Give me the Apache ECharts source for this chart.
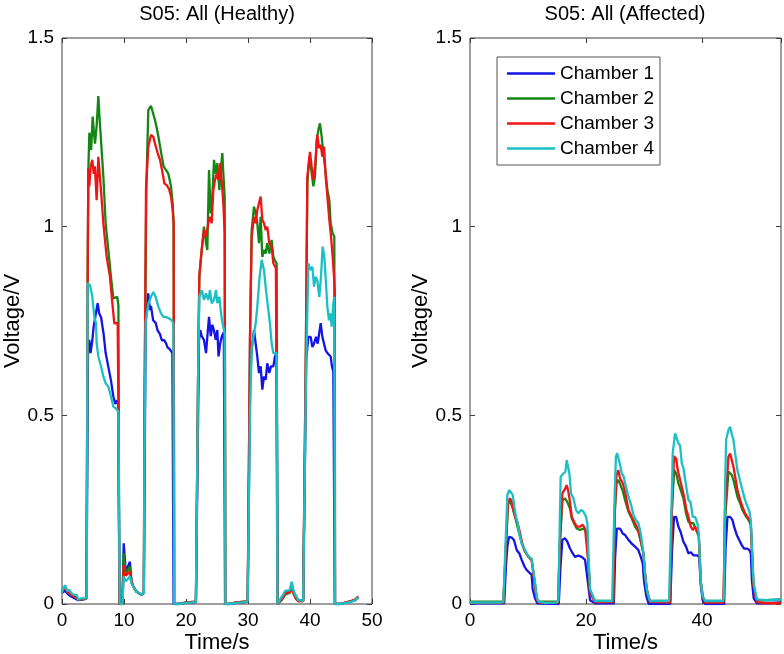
<!DOCTYPE html>
<html>
<head>
<meta charset="utf-8">
<script src="https://cdn.jsdelivr.net/npm/echarts@6/dist/echarts.min.js"></script>
<style>
  html, body { margin: 0; padding: 0; background: #fff; }
  #chart { width: 784px; height: 654px; }
</style>
</head>
<body>
<div id="chart"></div>
<script>
// series names and colours
var chamberNames = ["Chamber 1", "Chamber 2", "Chamber 3", "Chamber 4"];
var chamberColors = ["#1414e6", "#138613", "#f01414", "#1cbfc4"];

// S05 healthy side: [time s, voltage V]
var healthyCh1 = [[0,0.03],[0.5,0.035],[1,0.025],[1.5,0.02],[2,0.015],[2.6,0.01],[3.5,0.012],[3.95,0.015],
  [4.2,0.68],[4.4,0.70],[4.6,0.665],[4.9,0.70],[5.1,0.735],[5.4,0.74],[5.75,0.797],[6.0,0.77],[6.3,0.76],[6.7,0.717],[7.04,0.665],[7.47,0.629],[7.9,0.592],[8.28,0.55],[8.6,0.53],[8.9,0.54],[9.05,0.53],[9.3,0],
  [9.75,0],[9.95,0.161],[10.3,0.085],[10.55,0.08],[10.95,0.112],[11.2,0.06],[11.5,0.046],[12.0,0.033],[12.85,0.024],[13.2,0.03],
  [13.5,0.75],[13.9,0.823],[14.2,0.779],[14.35,0.79],[14.7,0.752],[15.1,0.745],[15.4,0.726],[15.8,0.715],[16.1,0.699],[16.5,0.699],[16.8,0.69],[17.0,0.681],[17.4,0.675],[17.8,0.665],[17.9,0.66],[18.0,0],
  [18.8,0],[20.0,0.003],[21.6,0.005],[21.8,0.01],
  [22.1,0.70],[22.3,0.726],[22.53,0.71],[22.9,0.70],[23.23,0.665],[23.5,0.72],[23.71,0.761],[24.0,0.71],[24.25,0.74],[24.5,0.726],[24.8,0.70],[25.05,0.726],[25.25,0.656],[25.5,0.69],[25.8,0.71],[26.1,0.72],[26.3,0],
  [27,0],[28,0.003],[29.5,0.005],[29.95,0.008],
  [30.35,0.6],[30.59,0.674],[30.97,0.726],[31.24,0.69],[31.5,0.656],[31.77,0.612],[32.04,0.63],[32.31,0.568],[32.58,0.603],[32.85,0.594],[33.11,0.638],[33.44,0.612],[33.71,0.63],[34.09,0.63],[34.35,0.656],[34.62,0.665],[34.8,0],
  [35.43,0.018],[36.0,0.03],[36.77,0.035],[37.04,0.055],[37.3,0.035],[37.7,0.02],[38.1,0.011],[38.9,0.008],
  [39.4,0.65],[39.73,0.708],[40.11,0.708],[40.38,0.681],[40.65,0.69],[40.97,0.708],[41.24,0.69],[41.72,0.744],[41.99,0.708],[42.26,0.69],[42.53,0.672],[42.8,0.665],[43.06,0.665],[43.33,0.656],[43.55,0.629],[43.76,0.616],[44.0,0],
  [44.8,0],[45.5,0.002],[46.5,0.006],[47.3,0.01],[47.8,0.018]];

var healthyCh2 = [[0,0.035],[0.5,0.045],[1,0.03],[1.5,0.025],[2,0.02],[2.6,0.012],[3.5,0.013],[3.95,0.015],
  [4.15,0.9],[4.25,1.15],[4.41,1.249],[4.7,1.203],[4.95,1.292],[5.15,1.249],[5.32,1.22],[5.6,1.27],[5.86,1.346],[6.05,1.29],[6.29,1.23],[6.67,1.133],[7.04,1.009],[7.47,0.939],[7.9,0.867],[8.28,0.81],[8.6,0.81],[8.92,0.814],[9.1,0.79],[9.25,0],
  [9.75,0],[9.95,0.134],[10.3,0.08],[10.55,0.075],[10.95,0.1],[11.2,0.06],[11.5,0.046],[12.0,0.033],[12.85,0.024],[13.2,0.03],
  [13.3,0.5],[13.6,1.1],[13.92,1.309],[14.35,1.32],[14.7,1.3],[14.99,1.283],[15.3,1.26],[15.54,1.239],[16.0,1.195],[16.4,1.159],[16.8,1.15],[17.15,1.14],[17.58,1.107],[17.85,1.062],[18.0,1.009],[18.1,0],
  [18.8,0],[20,0.004],[21.6,0.006],[21.8,0.01],
  [21.95,0.6],[22.15,0.868],[22.53,0.938],[22.9,1.0],[23.23,0.956],[23.44,0.938],[23.71,1.15],[23.98,1.035],[24.25,1.08],[24.52,1.177],[24.78,1.141],[25.05,1.168],[25.38,1.097],[25.59,1.15],[25.86,1.195],[26.02,1.141],[26.24,1.08],[26.35,0],
  [27,0],[28,0.004],[29.5,0.006],[29.95,0.008],
  [30.32,0.7],[30.59,0.991],[30.97,1.053],[31.24,1.035],[31.5,1.009],[31.77,0.956],[32.04,1.026],[32.31,0.92],[32.58,0.938],[32.85,0.929],[33.11,0.956],[33.44,0.929],[33.81,0.965],[34.09,0.92],[34.35,0.91],[34.62,0.903],[34.75,0],
  [35.43,0.01],[36.0,0.025],[36.77,0.03],[37.04,0.045],[37.3,0.03],[37.7,0.015],[38.1,0.008],[38.9,0.008],
  [39.35,0.7],[39.57,1.115],[39.89,1.185],[40.27,1.141],[40.54,1.107],[40.81,1.133],[41.08,1.23],[41.34,1.256],[41.61,1.274],[41.88,1.239],[42.15,1.195],[42.42,1.159],[42.8,1.097],[43.12,1.071],[43.33,1.009],[43.66,0.982],[43.92,0.974],[44.03,0],
  [44.8,0],[45.5,0.003],[46.5,0.007],[47.3,0.012],[47.8,0.02]];

var healthyCh3 = [[0,0.035],[0.5,0.042],[1,0.03],[1.5,0.025],[2,0.02],[2.6,0.012],[3.5,0.013],[3.95,0.015],
  [4.15,0.9],[4.25,1.155],[4.41,1.107],[4.62,1.16],[4.89,1.177],[5.11,1.14],[5.3,1.16],[5.59,1.07],[5.86,1.185],[6.29,1.097],[6.67,1.009],[7.2,0.92],[7.74,0.867],[8.12,0.797],[8.44,0.744],[8.98,0.744],[9.1,0.52],[9.25,0],
  [9.75,0],[9.95,0.103],[10.3,0.075],[10.55,0.07],[10.95,0.086],[11.2,0.06],[11.5,0.046],[12.0,0.033],[12.85,0.024],[13.2,0.03],
  [13.3,0.5],[13.55,1.1],[13.92,1.212],[14.35,1.243],[14.73,1.238],[14.99,1.221],[15.43,1.195],[15.81,1.177],[16.18,1.146],[16.51,1.115],[16.88,1.11],[17.26,1.1],[17.58,1.08],[17.85,1.044],[18.01,1.009],[18.1,0],
  [18.8,0],[20,0.004],[21.6,0.006],[21.8,0.01],
  [21.95,0.6],[22.15,0.868],[22.53,0.938],[22.9,0.991],[23.23,0.974],[23.6,1.009],[23.87,1.026],[24.14,1.009],[24.41,1.097],[24.68,1.124],[24.95,1.141],[25.22,1.124],[25.48,1.168],[25.75,1.124],[26.02,1.062],[26.24,0.982],[26.35,0],
  [27,0],[28,0.004],[29.5,0.006],[29.95,0.008],
  [30.32,0.7],[30.59,0.974],[30.97,1.026],[31.24,1.009],[31.5,1.044],[31.77,1.062],[32.04,1.08],[32.31,1.018],[32.58,1.009],[32.85,0.991],[33.11,1.0],[33.44,0.956],[33.81,0.947],[34.09,0.903],[34.5,0.89],[34.75,0],
  [35.43,0.012],[36.0,0.028],[36.77,0.032],[37.04,0.045],[37.3,0.03],[37.7,0.015],[38.1,0.008],[38.9,0.008],
  [39.35,0.7],[39.57,1.133],[40.0,1.198],[40.27,1.159],[40.54,1.124],[40.81,1.159],[41.18,1.243],[41.45,1.208],[41.72,1.217],[41.99,1.186],[42.26,1.212],[42.53,1.133],[42.8,1.08],[43.12,1.018],[43.39,0.974],[43.66,0.92],[43.87,0.868],[44.0,0.83],[44.05,0],
  [44.8,0],[45.5,0.003],[46.5,0.007],[47.3,0.012],[47.8,0.02]];

var healthyCh4 = [[0,0.03],[0.11,0.037],[0.48,0.05],[0.86,0.035],[1.2,0.037],[1.56,0.028],[2.0,0.024],[2.37,0.024],[2.63,0.011],[3.0,0.015],[3.55,0.015],[3.98,0.016],
  [4.14,0.85],[4.52,0.845],[4.89,0.814],[5.22,0.761],[5.48,0.744],[5.59,0.691],[5.86,0.656],[6.29,0.63],[6.67,0.603],[7.04,0.585],[7.47,0.576],[7.9,0.55],[8.28,0.523],[8.66,0.519],[8.92,0.515],[9.1,0.51],[9.3,0],
  [9.75,0],[9.95,0.073],[10.3,0.06],[10.55,0.065],[10.95,0.073],[11.2,0.055],[11.5,0.046],[12.0,0.033],[12.85,0.024],[13.2,0.03],
  [13.3,0.4],[13.5,0.744],[13.92,0.795],[14.35,0.814],[14.73,0.827],[15.1,0.814],[15.54,0.788],[15.97,0.77],[16.34,0.761],[16.72,0.761],[17.15,0.758],[17.69,0.752],[17.96,0.744],[18.1,0],
  [18.8,0],[20,0.003],[21.6,0.005],[21.8,0.01],
  [21.95,0.6],[22.15,0.814],[22.53,0.832],[22.9,0.806],[23.23,0.823],[23.6,0.806],[23.87,0.832],[24.14,0.797],[24.52,0.806],[24.85,0.832],[25.05,0.797],[25.38,0.814],[25.59,0.779],[25.81,0.752],[26.02,0.735],[26.24,0.717],[26.35,0],
  [27,0],[28,0.003],[29.5,0.005],[29.95,0.008],
  [30.32,0.5],[30.59,0.674],[30.97,0.718],[31.24,0.744],[31.5,0.788],[31.83,0.859],[32.2,0.912],[32.58,0.885],[32.9,0.832],[33.28,0.779],[33.54,0.744],[33.81,0.691],[34.09,0.665],[34.35,0.665],[34.62,0.665],[34.75,0],
  [35.43,0.018],[36.0,0.035],[36.77,0.037],[37.04,0.059],[37.3,0.037],[37.7,0.022],[38.1,0.011],[38.9,0.008],
  [39.35,0.6],[39.73,0.903],[40.11,0.885],[40.38,0.894],[40.65,0.841],[40.91,0.867],[41.18,0.858],[41.5,0.814],[41.77,0.867],[42.04,0.947],[42.31,0.92],[42.58,0.85],[42.8,0.788],[43.06,0.752],[43.33,0.77],[43.49,0.735],[43.76,0.797],[43.92,0.814],[44.05,0],
  [44.8,0],[45.5,0.002],[46.5,0.005],[47.3,0.01],[47.8,0.018]];

// S05 affected side: [time s, voltage V]
var affectedCh1 = [[0,0.002],[5.9,0.002],[6.2,0.1],[6.44,0.152],[6.72,0.178],[7.18,0.176],[7.59,0.169],[8.05,0.143],[8.51,0.134],[8.91,0.117],[9.37,0.1],[9.77,0.09],[10.23,0.083],[10.63,0.077],[10.8,0.04],[11.2,0.015],[11.6,0.002],
  [15.3,0],[15.6,0.1],[15.92,0.17],[16.38,0.174],[16.78,0.165],[17.24,0.147],[17.7,0.134],[18.1,0.125],[18.68,0.128],[19.25,0.125],[19.83,0.117],[20.11,0.115],[20.3,0.06],[20.69,0.01],[21.55,0.002],[24.8,0.002],
  [25.0,0.12],[25.3,0.2],[25.46,0.205],[25.86,0.2],[26.32,0.187],[26.72,0.183],[27.3,0.17],[27.87,0.16],[28.45,0.152],[29.02,0.143],[29.43,0.125],[29.77,0.108],[30.0,0.06],[30.4,0.02],[30.8,0],[34.5,0],
  [34.85,0.15],[35.17,0.231],[35.52,0.231],[35.92,0.205],[36.32,0.19],[36.78,0.165],[37.24,0.152],[37.64,0.134],[38.05,0.137],[38.51,0.129],[39.08,0.129],[39.5,0.125],[39.77,0.05],[40.1,0.01],[40.52,0],[43.8,0],
  [44.05,0.15],[44.37,0.231],[44.83,0.231],[45.23,0.223],[45.52,0.205],[45.98,0.183],[46.38,0.17],[46.84,0.156],[47.24,0.147],[47.7,0.147],[48.16,0.143],[48.39,0.134],[48.6,0.06],[48.9,0.015],[49.43,0.002],[51,0.002],[53.6,0.004]];

var affectedCh2 = [[0,0.006],[5.75,0.006],[6.1,0.12],[6.5,0.25],[6.61,0.266],[6.9,0.275],[7.36,0.254],[7.76,0.231],[8.33,0.196],[8.91,0.161],[9.48,0.139],[10.06,0.125],[10.63,0.117],[10.92,0.113],[11.2,0.05],[11.49,0.015],[11.78,0.006],
  [15.2,0.006],[15.45,0.15],[15.92,0.275],[16.38,0.28],[16.78,0.27],[17.24,0.253],[17.53,0.227],[17.93,0.214],[18.39,0.2],[18.97,0.196],[19.54,0.2],[20.11,0.192],[20.4,0.11],[20.69,0.03],[21.55,0.008],[24.7,0.008],
  [24.95,0.24],[25.25,0.32],[25.57,0.329],[25.86,0.324],[26.32,0.3],[26.72,0.276],[27.3,0.245],[27.87,0.227],[28.45,0.205],[29.02,0.192],[29.43,0.165],[29.89,0.134],[30.17,0.08],[30.46,0.04],[30.75,0.02],[31.03,0.008],[34.5,0.008],
  [34.8,0.25],[35.17,0.355],[35.52,0.346],[35.92,0.32],[36.32,0.302],[36.78,0.28],[37.24,0.24],[37.64,0.218],[38.05,0.214],[38.51,0.214],[38.97,0.196],[39.43,0.18],[39.77,0.06],[40.1,0.02],[40.52,0.008],[43.7,0.008],
  [43.95,0.22],[44.54,0.351],[44.83,0.355],[45.11,0.342],[45.4,0.329],[45.69,0.311],[46.09,0.284],[46.55,0.267],[46.95,0.249],[47.41,0.236],[47.82,0.227],[48.16,0.218],[48.39,0.209],[48.6,0.14],[48.85,0.05],[49.43,0.01],[51,0.01],[53.6,0.012]];

var affectedCh3 = [[0,0.003],[5.75,0.003],[6.1,0.12],[6.5,0.26],[6.61,0.272],[6.9,0.28],[7.18,0.272],[7.47,0.249],[7.87,0.228],[8.16,0.218],[8.6,0.19],[9.0,0.161],[9.5,0.139],[10.0,0.128],[10.63,0.115],[10.92,0.11],[11.2,0.05],[11.49,0.015],[11.78,0.004],
  [15.2,0.003],[15.45,0.15],[15.92,0.293],[16.38,0.305],[16.67,0.315],[16.95,0.298],[17.24,0.27],[17.53,0.231],[17.93,0.218],[18.39,0.205],[18.97,0.205],[19.43,0.21],[19.83,0.2],[20.11,0.196],[20.4,0.11],[20.69,0.03],[21.55,0.005],[24.7,0.005],
  [24.95,0.25],[25.25,0.34],[25.55,0.355],[25.86,0.333],[26.32,0.32],[26.72,0.298],[27.3,0.25],[27.87,0.231],[28.45,0.214],[29.02,0.196],[29.43,0.17],[29.89,0.134],[30.17,0.08],[30.46,0.04],[30.75,0.02],[31.03,0.006],[34.5,0.004],
  [34.8,0.25],[35.17,0.392],[35.52,0.385],[35.8,0.355],[36.09,0.355],[36.49,0.311],[36.9,0.285],[37.24,0.253],[37.64,0.231],[38.05,0.205],[38.39,0.196],[38.79,0.205],[39.19,0.192],[39.43,0.183],[39.77,0.06],[40.1,0.02],[40.52,0.004],[43.7,0.004],
  [43.95,0.25],[44.54,0.39],[44.83,0.399],[45.11,0.382],[45.4,0.364],[45.69,0.338],[46.09,0.302],[46.55,0.276],[46.95,0.258],[47.41,0.24],[47.82,0.231],[48.16,0.223],[48.39,0.214],[48.6,0.14],[48.85,0.05],[49.43,0.005],[51,0.002],[53.6,0.002]];

var affectedCh4 = [[0,0.004],[5.0,0.004],[5.75,0.005],[6.1,0.15],[6.44,0.289],[6.78,0.302],[7.07,0.3],[7.36,0.289],[7.64,0.258],[7.93,0.231],[8.22,0.214],[8.51,0.187],[8.91,0.161],[9.48,0.143],[9.77,0.134],[10.17,0.125],[10.63,0.12],[10.92,0.117],[11.2,0.06],[11.49,0.02],[11.78,0.006],[13,0.003],
  [15.0,0.004],[15.23,0.01],[15.45,0.2],[15.63,0.337],[16.09,0.346],[16.44,0.35],[16.67,0.381],[16.9,0.386],[17.13,0.346],[17.41,0.293],[17.82,0.28],[18.28,0.249],[18.68,0.24],[19.14,0.249],[19.54,0.245],[20.0,0.231],[20.23,0.214],[20.45,0.12],[20.69,0.04],[21.55,0.008],[24.5,0.008],
  [24.71,0.01],[24.95,0.3],[25.15,0.39],[25.35,0.4],[25.6,0.385],[25.86,0.37],[26.15,0.346],[26.44,0.34],[26.87,0.311],[27.3,0.285],[27.73,0.265],[28.16,0.236],[28.6,0.223],[29.02,0.214],[29.43,0.187],[29.89,0.134],[30.17,0.08],[30.46,0.04],[30.75,0.02],[31.03,0.008],[34.3,0.008],
  [34.6,0.01],[34.8,0.3],[34.94,0.399],[35.34,0.452],[35.63,0.457],[35.92,0.426],[36.21,0.42],[36.5,0.373],[36.78,0.36],[37.18,0.32],[37.64,0.276],[38.0,0.27],[38.39,0.231],[38.8,0.231],[39.19,0.214],[39.43,0.187],[39.77,0.06],[40.1,0.02],[40.52,0.008],[43.6,0.008],
  [43.79,0.02],[43.95,0.3],[44.14,0.435],[44.54,0.461],[44.83,0.47],[45.1,0.452],[45.4,0.435],[45.69,0.4],[46.09,0.355],[46.52,0.328],[46.95,0.302],[47.4,0.276],[47.82,0.258],[48.16,0.245],[48.39,0.223],[48.6,0.15],[48.85,0.06],[49.43,0.012],[51,0.01],[53.6,0.012]];

var healthyData = [healthyCh1, healthyCh2, healthyCh3, healthyCh4];
var affectedData = [affectedCh1, affectedCh2, affectedCh3, affectedCh4];

// axis ranges / ticks
var yTicks = [0, 0.5, 1, 1.5];
var healthyXMax = 50, healthyXStep = 10;
var affectedXMax = 53.6, affectedXStep = 20;

var FONT = "'Liberation Sans', Arial, Helvetica, sans-serif";
var AXIS_COLOR = "#3c3c3c";

function xAx(gridIndex, max, step, top) {
  return {
    type: "value", gridIndex: gridIndex, min: 0, max: max, interval: step,
    position: top ? "top" : "bottom",
    name: top ? "" : "Time/s", nameLocation: "middle", nameGap: 28, nameMoveOverlap: false,
    nameTextStyle: { fontFamily: FONT, fontSize: 22, color: "#000" },
    axisLine: { show: false, onZero: false },
    axisTick: { show: true, inside: true, length: 5, lineStyle: { color: AXIS_COLOR } },
    axisLabel: {
      show: !top, margin: 7, fontFamily: FONT, fontSize: 19, color: "#000",
      showMaxLabel: max % step === 0,
      formatter: function (v) { return Math.abs(v / step - Math.round(v / step)) < 1e-6 ? String(v) : ""; }
    },
    splitLine: { show: false }
  };
}
function yAx(gridIndex, right) {
  return {
    type: "value", gridIndex: gridIndex, min: yTicks[0], max: yTicks[yTicks.length - 1], interval: 0.5,
    position: right ? "right" : "left",
    name: right ? "" : "Voltage/V", nameLocation: "middle", nameGap: 38,
    nameTextStyle: { fontFamily: FONT, fontSize: 22, color: "#000" },
    axisLine: { show: false, onZero: false },
    axisTick: { show: true, inside: true, length: 5, lineStyle: { color: AXIS_COLOR } },
    axisLabel: { show: !right, margin: 8, fontFamily: FONT, fontSize: 19, color: "#000" },
    splitLine: { show: false }
  };
}

var series = [];
healthyData.forEach(function (d, i) {
  series.push({
    name: chamberNames[i], type: "line", xAxisIndex: 0, yAxisIndex: 0,
    data: d, symbol: "none", showSymbol: false,
    lineStyle: { width: 2.3, color: chamberColors[i] }, itemStyle: { color: chamberColors[i] }
  });
});
affectedData.forEach(function (d, i) {
  series.push({
    name: chamberNames[i], type: "line", xAxisIndex: 2, yAxisIndex: 2,
    data: d, symbol: "none", showSymbol: false,
    lineStyle: { width: 2.3, color: chamberColors[i] }, itemStyle: { color: chamberColors[i] }
  });
});

var chart = echarts.init(document.getElementById("chart"));
chart.setOption({
  animation: false,
  backgroundColor: "#fff",
  graphic: [
    { type: "text", x: 217, y: 4, style: { text: "S05: All (Healthy)", font: "20px " + FONT, fill: "#000", textAlign: "center" } },
    { type: "text", x: 625, y: 4, style: { text: "S05: All (Affected)", font: "20px " + FONT, fill: "#000", textAlign: "center" } }
  ],
  grid: [
    { left: 62, top: 38, width: 310, height: 566, outerBoundsMode: "none", show: true, borderColor: AXIS_COLOR, borderWidth: 1, backgroundColor: "transparent" },
    { left: 470, top: 38, width: 311, height: 566, outerBoundsMode: "none", show: true, borderColor: AXIS_COLOR, borderWidth: 1, backgroundColor: "transparent" }
  ],
  xAxis: [
    xAx(0, healthyXMax, healthyXStep, false), xAx(0, healthyXMax, healthyXStep, true),
    xAx(1, affectedXMax, affectedXStep, false), xAx(1, affectedXMax, affectedXStep, true)
  ],
  yAxis: [yAx(0, false), yAx(0, true), yAx(1, false), yAx(1, true)],
  legend: {
    data: chamberNames, orient: "vertical", left: 497, top: 57,
    backgroundColor: "#fff", borderColor: "#555", borderWidth: 1,
    padding: [7, 6, 7, 10], itemWidth: 48, itemHeight: 2.5, itemGap: 6,
    icon: "rect",
    textStyle: { fontFamily: FONT, fontSize: 19, color: "#000" }
  },
  series: series
});
</script>
</body>
</html>
